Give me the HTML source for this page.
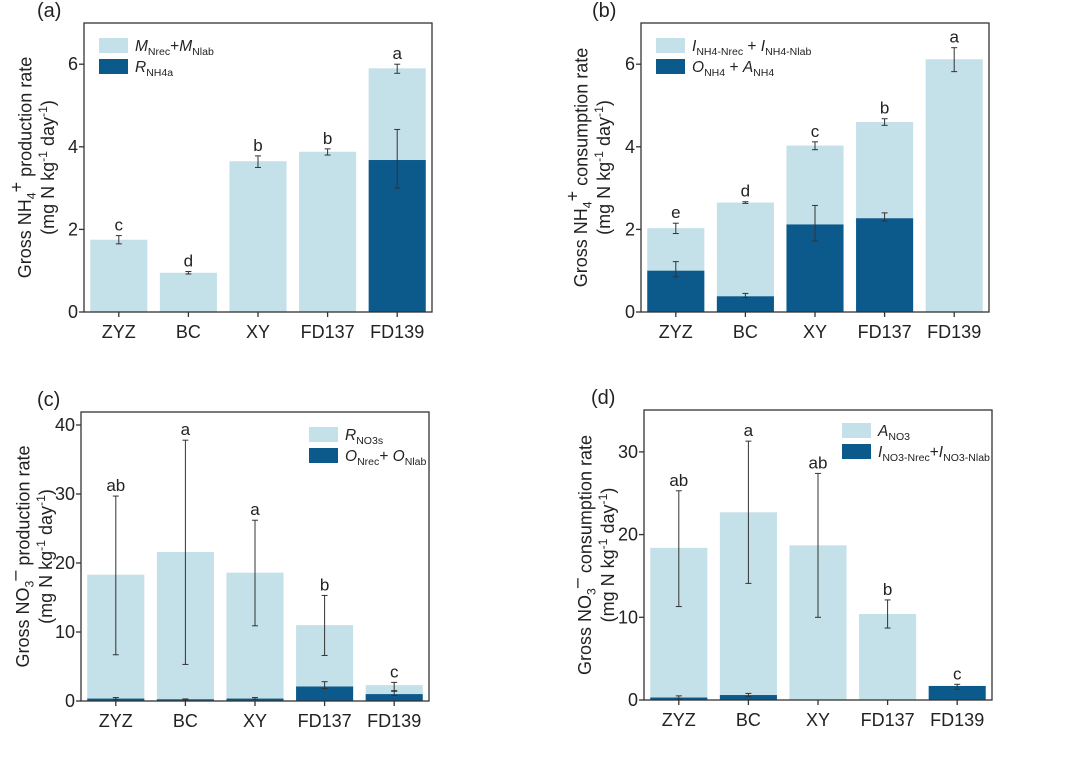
<!DOCTYPE html>
<html><head><meta charset="utf-8"><style>
html,body{margin:0;padding:0;background:#fff;}
svg{display:block;font-family:"Liberation Sans",Arial,sans-serif;}
</style></head><body>
<svg id="chart" width="1080" height="767" viewBox="0 0 1080 767" xmlns="http://www.w3.org/2000/svg"></svg>
<script>
const categories = ["ZYZ","BC","XY","FD137","FD139"];
// panel a
const aLight = [1.75,0.95,3.65,3.88,5.9];
const aLightLo = [1.65,0.92,3.5,3.8,5.78];
const aLightHi = [1.85,0.98,3.78,3.95,6.0];
const aDark = [0,0,0,0,3.68];
const aDarkLo = [null,null,null,null,3.0];
const aDarkHi = [null,null,null,null,4.42];
const aLetters = ["c","d","b","b","a"];
const aTicks = [0,2,4,6];
// panel b
const bLight = [2.03,2.65,4.03,4.6,6.12];
const bLightLo = [1.9,2.63,3.93,4.52,5.82];
const bLightHi = [2.15,2.67,4.12,4.68,6.4];
const bDark = [1.0,0.38,2.12,2.27,0];
const bDarkLo = [0.85,0.35,1.72,2.2,null];
const bDarkHi = [1.22,0.45,2.58,2.4,null];
const bLetters = ["e","d","c","b","a"];
const bTicks = [0,2,4,6];
// panel c
const cLight = [18.3,21.6,18.6,11.0,2.3];
const cLightLo = [6.7,5.3,10.9,6.6,1.5];
const cLightHi = [29.7,37.8,26.2,15.3,2.7];
const cDark = [0.35,0.25,0.35,2.1,1.0];
const cDarkLo = [0.2,0.15,0.25,1.8,0.8];
const cDarkHi = [0.5,0.3,0.5,2.8,1.4];
const cLetters = ["ab","a","a","b","c"];
const cTicks = [0,10,20,30,40];
// panel d
const dLight = [18.4,22.7,18.7,10.4,0];
const dLightLo = [11.3,14.1,10.0,8.7,null];
const dLightHi = [25.3,31.3,27.4,12.1,null];
const dDark = [0.3,0.6,0,0.05,1.7];
const dDarkLo = [0.1,0.4,null,null,1.3];
const dDarkHi = [0.5,0.8,null,null,1.9];
const dLetters = ["ab","a","ab","b","c"];
const dTicks = [0,10,20,30];

const NS="http://www.w3.org/2000/svg";
const svg=document.getElementById('chart');
const LIGHT="#c4e0e8", DARK="#0c5a8c";
function mk(tag,attrs,parent){const e=document.createElementNS(NS,tag);for(const k in attrs)e.setAttribute(k,attrs[k]);(parent||svg).appendChild(e);return e;}
function richText(parent,x,y,parts,size,anchor){
  const t=mk('text',{x:x,y:y,'font-size':size,fill:'#222','text-anchor':anchor||'start'},parent);
  parts.forEach(p=>{const s=mk('tspan',{},t);s.textContent=p[0];
    if(p[1]==='sub'){s.setAttribute('font-size',size*0.68);s.setAttribute('dy',size*0.25);}
    if(p[1]==='sup'){s.setAttribute('font-size',size*0.68);s.setAttribute('dy',-size*0.4);}
    if(p[2])s.setAttribute('font-style','italic');
    if(p[3]!==undefined)s.setAttribute('dy',p[3]);
  });
  return t;
}
function drawPanel(cfg){
  const g=mk('g',{});
  
  
  const L=cfg.left,R=cfg.right,T=cfg.top,B=cfg.bottom;
  const y=v=>cfg.y0-(v)*cfg.ppu;
  const xc=i=>L+(R-L)*(i+0.5)/categories.length;
  const bw=(R-L)/categories.length*0.82;
  categories.forEach((c,i)=>{
    if(cfg.light[i]>0){const r=mk('rect',{x:xc(i)-bw/2,y:y(cfg.light[i]),width:bw,height:y(0)-y(cfg.light[i]),fill:LIGHT},g);
      
      }
    if(cfg.dark[i]>0){const r=mk('rect',{x:xc(i)-bw/2,y:y(cfg.dark[i]),width:bw,height:y(0)-y(cfg.dark[i]),fill:DARK},g);
      
      }
  });
  function err(i,lo,hi){
    if(lo==null)return;
    const eg=mk('g',{stroke:'#333','stroke-width':1},g);
    
    
    mk('line',{x1:xc(i),x2:xc(i),y1:y(lo),y2:y(hi)},eg);
    mk('line',{x1:xc(i)-3,x2:xc(i)+3,y1:y(lo),y2:y(lo)},eg);
    mk('line',{x1:xc(i)-3,x2:xc(i)+3,y1:y(hi),y2:y(hi)},eg);
  }
  categories.forEach((c,i)=>{err(i,cfg.lightLo[i],cfg.lightHi[i]);err(i,cfg.darkLo[i],cfg.darkHi[i]);
    const top=Math.max(cfg.lightHi[i]??cfg.light[i],cfg.darkHi[i]??cfg.dark[i]);
    const t=mk('text',{x:xc(i),y:y(top)-5,'font-size':17,'text-anchor':'middle',fill:'#222'},g);
    t.textContent=cfg.letters[i];
    
    
  });
  const fr=mk('rect',{x:L,y:T,width:R-L,height:B-T,fill:'none',stroke:'#333','stroke-width':1.3},g);
  
  
  cfg.ticks.forEach(v=>{
    mk('line',{x1:L-5,x2:L,y1:y(v),y2:y(v),stroke:'#333','stroke-width':1.3},g);
    const t=mk('text',{x:L-6,y:y(v)+6,'font-size':18,'text-anchor':'end',fill:'#222'},g);
    t.textContent=v;
    
    
  });
  categories.forEach((c,i)=>{
    mk('line',{x1:xc(i),x2:xc(i),y1:B,y2:B+5,stroke:'#333','stroke-width':1.3},g);
    const t=mk('text',{x:xc(i),y:B+26,'font-size':18,'text-anchor':'middle',fill:'#222'},g);
    t.textContent=c;
    
    
  });
  const pl=mk('text',{x:cfg.plx,y:T-6,'font-size':20,fill:'#222'},g);
  pl.textContent=cfg.label;
  
  
  const cy=(T+B)/2;
  const yt=mk('g',{transform:`translate(${cfg.ytx},${cy}) rotate(-90)`},g);
  
  
  richText(yt,0,0,cfg.ytitle,18,'middle');
  richText(yt,0,23,[["(mg N kg"],["-1",'sup'],[" day",null,false,7.2],["-1",'sup'],[")",null,false,7.2]],18,'middle');
  const lg=mk('g',{},g);
  
  
  mk('rect',{x:cfg.lgx,y:cfg.lgy,width:29,height:15,fill:LIGHT},lg);
  mk('rect',{x:cfg.lgx,y:cfg.lgy+21,width:29,height:15,fill:DARK},lg);
  richText(lg,cfg.lgx+36,cfg.lgy+13,cfg.leg1,15.5);
  richText(lg,cfg.lgx+36,cfg.lgy+34,cfg.leg2,15.5);
}
drawPanel({name:'panel-a',label:'(a)',plx:37,left:84,right:432,top:23,bottom:312,y0:312,ppu:41.3,
  light:aLight,lightLo:aLightLo,lightHi:aLightHi,dark:aDark,darkLo:aDarkLo,darkHi:aDarkHi,letters:aLetters,ticks:aTicks,
  ytx:31,ytitle:[["Gross  NH"],["4",'sub'],["+",null,false,-13],[" production rate",null,false,9]],
  lgx:99,lgy:38,leg1:[["M",null,true],["Nrec",'sub'],["+",null,false,-4],["M",null,true],["Nlab",'sub']],leg2:[["R",null,true],["NH4a",'sub']]});
drawPanel({name:'panel-b',label:'(b)',plx:592,left:641,right:989,top:23,bottom:312,y0:312,ppu:41.3,
  light:bLight,lightLo:bLightLo,lightHi:bLightHi,dark:bDark,darkLo:bDarkLo,darkHi:bDarkHi,letters:bLetters,ticks:bTicks,
  ytx:587,ytitle:[["Gross  NH"],["4",'sub'],["+",null,false,-13],[" consumption rate",null,false,9]],
  lgx:656,lgy:38,leg1:[["I",null,true],["NH4-Nrec",'sub'],[" + ",null,false,-4],["I",null,true],["NH4-Nlab",'sub']],leg2:[["O",null,true],["NH4",'sub'],[" + ",null,false,-4],["A",null,true],["NH4",'sub']]});
drawPanel({name:'panel-c',label:'(c)',plx:37,left:81,right:429,top:412,bottom:701,y0:701,ppu:6.9,
  light:cLight,lightLo:cLightLo,lightHi:cLightHi,dark:cDark,darkLo:cDarkLo,darkHi:cDarkHi,letters:cLetters,ticks:cTicks,
  ytx:29,ytitle:[["Gross  NO"],["3",'sub'],["\u2013",null,false,-13],[" production rate",null,false,9]],
  lgx:309,lgy:427,leg1:[["R",null,true],["NO3s",'sub']],leg2:[["O",null,true],["Nrec",'sub'],["+ ",null,false,-4],["O",null,true],["Nlab",'sub']]});
drawPanel({name:'panel-d',label:'(d)',plx:591,left:644,right:992,top:410,bottom:700,y0:700,ppu:8.27,
  light:dLight,lightLo:dLightLo,lightHi:dLightHi,dark:dDark,darkLo:dDarkLo,darkHi:dDarkHi,letters:dLetters,ticks:dTicks,
  ytx:591,ytitle:[["Gross  NO"],["3",'sub'],["\u2013",null,false,-13],[" consumption rate",null,false,9]],
  lgx:842,lgy:423,leg1:[["A",null,true],["NO3",'sub']],leg2:[["I",null,true],["NO3-Nrec",'sub'],["+",null,false,-4],["I",null,true],["NO3-Nlab",'sub']]});
</script>
</body></html>
